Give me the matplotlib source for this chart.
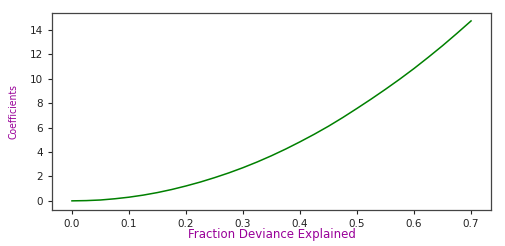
import matplotlib
matplotlib.use("Agg")
import matplotlib.pyplot as plt

fraction = [0.0, 0.025, 0.05, 0.075, 0.10, 0.125, 0.15, 0.175, 0.20, 0.225, 0.25, 0.275,
            0.30, 0.325, 0.35, 0.375, 0.40, 0.425, 0.45, 0.475, 0.50, 0.525, 0.55, 0.575,
            0.60, 0.625, 0.65, 0.675, 0.70]
coefficients = [0.0, 0.02, 0.07, 0.17, 0.30, 0.47, 0.68, 0.93, 1.22, 1.54, 1.90, 2.29,
                2.72, 3.19, 3.70, 4.25, 4.84, 5.46, 6.12, 6.83, 7.58, 8.35, 9.15, 9.98,
                10.85, 11.77, 12.72, 13.72, 14.75]
xticks = [0.0, 0.1, 0.2, 0.3, 0.4, 0.5, 0.6, 0.7]
yticks = [0, 2, 4, 6, 8, 10, 12, 14]

fig = plt.figure(figsize=(5.05, 2.46), dpi=100)
ax = fig.add_axes([52/505, 36/246, (491-52)/505, (210-13)/246])
ax.plot(fraction, coefficients, color="green", linewidth=1.1)
ax.set_xlim(-0.035, 0.735)
ax.set_ylim(-0.75, 15.4)
ax.set_xticks(xticks)
ax.set_xticklabels([f"{v:.1f}" for v in xticks])
ax.set_yticks(yticks)
ax.tick_params(labelsize=7.5, colors="#222222", length=3, width=0.8)
for s in ax.spines.values():
    s.set_color("#444444")
    s.set_linewidth(0.9)
ax.set_xlabel("Fraction Deviance Explained", color="#990099", fontsize=8.5, labelpad=-1)
ax.set_ylabel("Coefficients", color="#990099", fontsize=7.5,
              fontstretch="condensed", labelpad=8)
fig.savefig("out.png", dpi=100)
